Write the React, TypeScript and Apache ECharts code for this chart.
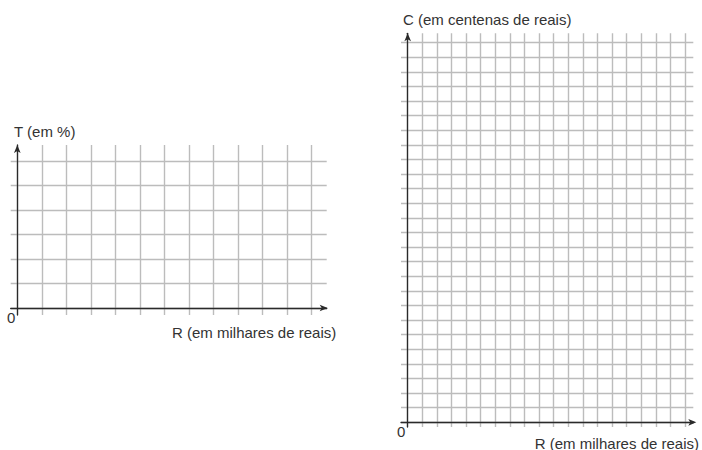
import React, { useEffect, useRef } from "react";
import * as echarts from "echarts";

// Left chart: T (em %) versus R (em milhares de reais)
const leftColumns = [0, 1, 2, 3, 4, 5, 6, 7, 8, 9, 10, 11, 12];
const leftRows = [0, 1, 2, 3, 4, 5, 6];
// Right chart: C (em centenas de reais) versus R (em milhares de reais)
const rightColumns = [0, 1, 2, 3, 4, 5, 6, 7, 8, 9, 10, 11, 12, 13, 14, 15, 16, 17, 18, 19];
const rightRows = [0, 1, 2, 3, 4, 5, 6, 7, 8, 9, 10, 11, 12, 13, 14, 15, 16, 17, 18, 19, 20, 21, 22, 23, 24, 25, 26];

const leftYTitle = "T (em %)";
const leftXTitle = "R (em milhares de reais)";
const rightYTitle = "C (em centenas de reais)";
const rightXTitle = "R (em milhares de reais)";
const originLabel = "0";

const GRID_COLOR = "#bcbcbc";
const AXIS_COLOR = "#2a2a2a";
const TEXT_COLOR = "#333333";
const FONT = '"Liberation Sans", Arial, sans-serif';

export default function App() {
  const ref = useRef<HTMLDivElement>(null);

  useEffect(() => {
    if (!ref.current) return;
    const chart = echarts.init(ref.current, undefined, { renderer: "svg" });

    const lMaxX = leftColumns[leftColumns.length - 1];
    const lMaxY = leftRows[leftRows.length - 1];
    const rMaxX = rightColumns[rightColumns.length - 1];
    const rMaxY = rightRows[rightRows.length - 1];

    const lStep = 24.5;
    const rStep = 14.6;
    const lOx = 17.3, lOy = 308;
    const rOx = 407.7, rOy = 422.3;

    const grids = [
      // left: vertical lines + y axis line
      { left: lOx, top: 145, width: lMaxX * lStep, height: 315 - 145 },
      // left: horizontal lines + x axis line
      { left: 10.7, top: lOy - lMaxY * lStep, width: 326.7 - 10.7, height: lMaxY * lStep },
      // right: vertical lines + y axis line
      { left: rOx, top: 33.3, width: rMaxX * rStep, height: 427 - 33.3 },
      // right: horizontal lines + x axis line
      { left: 401, top: rOy - rMaxY * rStep, width: 693.3 - 401, height: rMaxY * rStep },
    ];

    const splitLine = { show: true, lineStyle: { color: GRID_COLOR, width: 1.4 } };
    const hiddenLine = { show: false };
    const axisArrowLine = (offset: number) => ({
      show: true,
      onZero: false,
      symbol: ["none", "arrow"],
      symbolSize: [5, 8],
      symbolOffset: [0, offset],
      lineStyle: { color: AXIS_COLOR, width: 1.3 },
    });
    const base = {
      type: "value",
      axisTick: { show: false },
      axisLabel: { show: false },
    };

    const xAxis = [
      { ...base, gridIndex: 0, min: leftColumns[0], max: lMaxX, interval: 1, splitLine, axisLine: hiddenLine },
      { ...base, gridIndex: 1, min: 0, max: 1, splitLine: hiddenLine, axisLine: axisArrowLine(1) },
      { ...base, gridIndex: 2, min: rightColumns[0], max: rMaxX, interval: 1, splitLine, axisLine: hiddenLine },
      { ...base, gridIndex: 3, min: 0, max: 1, splitLine: hiddenLine, axisLine: axisArrowLine(3) },
    ];
    const yAxis = [
      { ...base, gridIndex: 0, min: 0, max: 1, splitLine: hiddenLine, axisLine: axisArrowLine(0) },
      { ...base, gridIndex: 1, min: leftRows[0], max: lMaxY, interval: 1, splitLine, axisLine: hiddenLine },
      { ...base, gridIndex: 2, min: 0, max: 1, splitLine: hiddenLine, axisLine: axisArrowLine(0) },
      { ...base, gridIndex: 3, min: rightRows[0], max: rMaxY, interval: 1, splitLine, axisLine: hiddenLine },
    ];

    const series = [0, 1, 2, 3].map((i) => ({
      type: "scatter",
      xAxisIndex: i,
      yAxisIndex: i,
      data: [] as number[][],
    }));

    const txt = (text: string, x: number, y: number, align = "left") => ({
      type: "text",
      x,
      y,
      silent: true,
      style: {
        text,
        fill: TEXT_COLOR,
        fontSize: 15,
        fontFamily: FONT,
        align,
        verticalAlign: "middle",
      },
    });

    chart.setOption({
      animation: false,
      backgroundColor: "#ffffff",
      grid: grids,
      xAxis,
      yAxis,
      series,
      graphic: [
        txt(leftYTitle, 14, 131.5),
        txt(leftXTitle, 172, 332.5),
        txt(originLabel, 7, 317),
        txt(rightYTitle, 403, 19),
        txt(rightXTitle, 699, 443, "right"),
        txt(originLabel, 397, 431),
      ],
    });

    return () => chart.dispose();
  }, []);

  return (
    <div
      ref={ref}
      style={{ position: "fixed", left: 0, top: 0, width: 702, height: 450, background: "#fff" }}
    />
  );
}
